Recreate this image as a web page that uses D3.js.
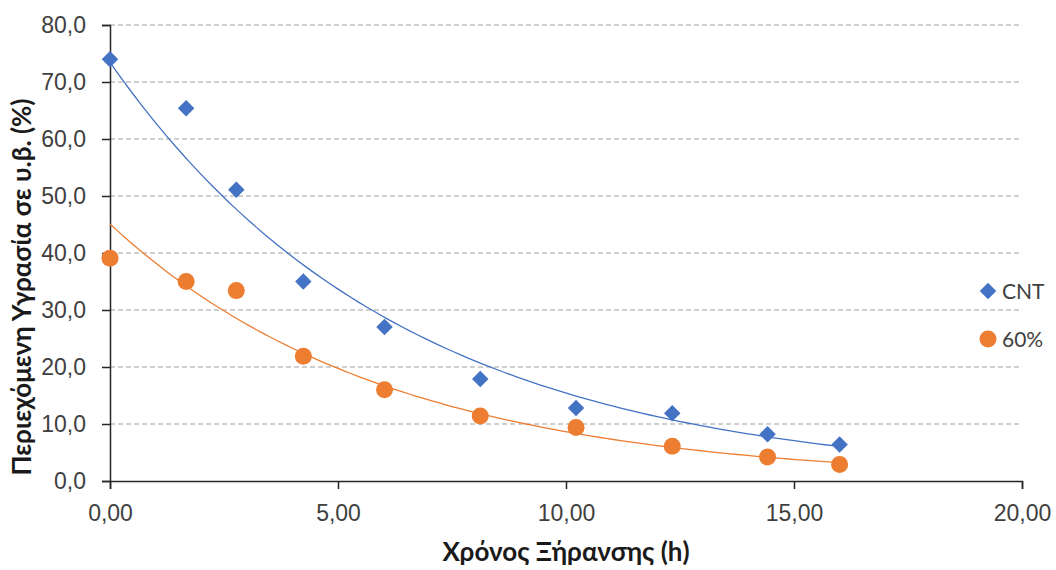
<!DOCTYPE html>
<html>
<head>
<meta charset="utf-8">
<script src="https://cdn.jsdelivr.net/npm/d3@7"></script>
<style>
  body { margin: 0; background: #fff; }
  svg { display: block; font-family: Lato, "Open Sans", sans-serif; }
  .axis text { font-size: 23px; fill: #404040; }
  .axis path, .axis line { stroke: #262626; stroke-width: 1.5; }
  .grid line { stroke: #a0a0a0; stroke-width: 1.2; stroke-dasharray: 5,3; }
  .title { font-size: 26px; font-weight: bold; fill: #1a1a1a; }
</style>
</head>
<body>
<div id="chart"></div>
<script>
var WIDTH = 1056;
var HEIGHT = 570;
var margin = {top: 25, right: 34, bottom: 89, left: 110};

// drying time (h)
var timeCNT = [0, 1.67, 2.77, 4.24, 6.02, 8.12, 10.22, 12.33, 14.42, 16.0];
var moistCNT = [74.0, 65.4, 51.1, 35.0, 27.0, 17.9, 12.8, 11.9, 8.2, 6.4];
var time60 = [0, 1.67, 2.77, 4.24, 6.02, 8.12, 10.22, 12.33, 14.42, 16.0];
var moist60 = [39.1, 35.0, 33.4, 21.9, 16.0, 11.4, 9.4, 6.1, 4.2, 2.9];

var seriesNames = ["CNT", "60%"];
var colors = ["#4472C4", "#ED7D31"];
var xTicks = [0, 5, 10, 15, 20];
var yTicks = [0, 10, 20, 30, 40, 50, 60, 70, 80];

var locale = d3.formatLocale({decimal: ",", thousands: ".", grouping: [3], currency: ["", "€"]});

var svg = d3.select("#chart").append("svg")
  .attr("width", WIDTH)
  .attr("height", HEIGHT);

var w = WIDTH - margin.left - margin.right;
var h = HEIGHT - margin.top - margin.bottom;

var g = svg.append("g")
  .attr("transform", "translate(" + margin.left + "," + margin.top + ")");

var x = d3.scaleLinear().domain([0, 20]).range([0, 912]);
var y = d3.scaleLinear().domain([0, 80]).range([h, 0]);

// gridlines
g.append("g")
  .attr("class", "grid")
  .selectAll("line")
  .data(yTicks.filter(function(d) { return d > 0; }))
  .enter().append("line")
  .attr("x1", 0).attr("x2", x(20))
  .attr("y1", function(d) { return y(d); })
  .attr("y2", function(d) { return y(d); });

g.append("g")
  .attr("class", "axis")
  .attr("transform", "translate(0," + h + ")")
  .call(d3.axisBottom(x).tickValues(xTicks).tickFormat(locale.format(".2f")).tickSizeOuter(0).tickSize(8).tickPadding(16));

g.append("g")
  .attr("class", "axis")
  .call(d3.axisLeft(y).tickValues(yTicks).tickFormat(locale.format(".1f")).tickSizeOuter(0).tickSize(8).tickPadding(16));

// exponential trendline (least squares on ln y), like the spreadsheet
function expFit(xs, ys) {
  var lx = d3.mean(xs);
  var ly = d3.mean(ys, function(v) { return Math.log(v); });
  var num = 0, den = 0;
  xs.forEach(function(v, i) {
    num += (v - lx) * (Math.log(ys[i]) - ly);
    den += (v - lx) * (v - lx);
  });
  var b = num / den;
  var a = Math.exp(ly - b * lx);
  return function(t) { return a * Math.exp(b * t); };
}

// rotated square = excel diamond marker
function marker(sel, s) {
  if (s.shape === "circle") {
    sel.append("circle").attr("r", 8.5).style("fill", s.color);
  } else {
    sel.append("path")
      .attr("d", d3.symbol().type(d3.symbolSquare).size(136))
      .attr("transform", "rotate(45)")
      .style("fill", s.color);
  }
}

var series = [
  {name: seriesNames[0], xs: timeCNT, ys: moistCNT, color: colors[0], shape: "diamond"},
  {name: seriesNames[1], xs: time60, ys: moist60, color: colors[1], shape: "circle"}
];

series.forEach(function(s) {
  var pts = s.xs.map(function(v, i) { return [v, s.ys[i]]; });

  g.append("g").selectAll("g")
    .data(pts)
    .enter().append("g")
    .attr("transform", function(d) { return "translate(" + x(d[0]) + "," + y(d[1]) + ")"; })
    .each(function() { marker(d3.select(this), s); });

  var f = expFit(s.xs, s.ys);
  var xmax = d3.max(s.xs);
  var tr = d3.range(0, 101).map(function(k) { var t = xmax * k / 100; return [t, f(t)]; });
  var line = d3.line()
    .x(function(d) { return x(d[0]); })
    .y(function(d) { return y(d[1]); });
  g.append("path")
    .attr("d", line(tr))
    .style("fill", "none")
    .style("stroke", s.color)
    .style("stroke-width", 1.3);
});

// legend
var legend = svg.append("g").attr("transform", "translate(988,291)");
series.forEach(function(s, i) {
  var row = legend.append("g").attr("transform", "translate(0," + (i * 48) + ")");
  marker(row, s);
  row.append("text")
    .attr("x", 14)
    .attr("dy", "0.36em")
    .style("font-size", "21px")
    .style("fill", "#404040")
    .text(s.name);
});

// axis titles
svg.append("text")
  .attr("class", "title")
  .attr("x", 566)
  .attr("y", 561)
  .attr("text-anchor", "middle")
  .text("Χρόνος Ξήρανσης (h)");

svg.append("text")
  .attr("class", "title")
  .attr("transform", "translate(31,287) rotate(-90)")
  .attr("text-anchor", "middle")
  .text("Περιεχόμενη Υγρασία σε υ.β. (%)");
</script>
</body>
</html>
